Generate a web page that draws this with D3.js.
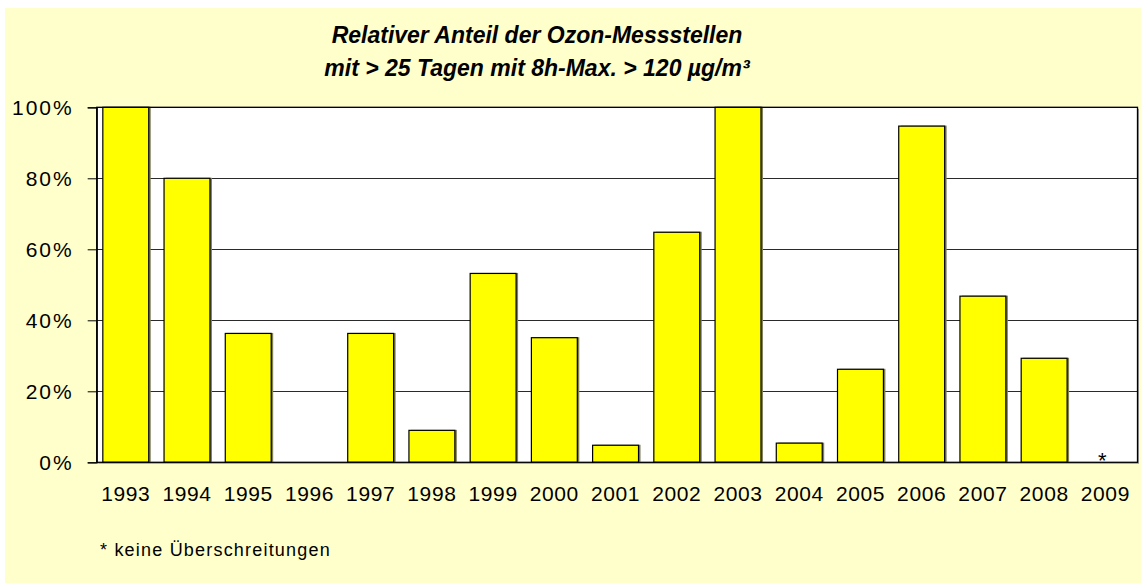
<!DOCTYPE html>
<html>
<head>
<meta charset="utf-8">
<script src="https://cdn.jsdelivr.net/npm/d3@7"></script>
<style>
  html, body { margin: 0; padding: 0; background: #ffffff; }
  svg { display: block; }
  text { font-family: "Liberation Sans", Arial, sans-serif; fill: #000; }
</style>
</head>
<body>
<svg id="chart" width="1141" height="583"></svg>
<script>
// ---- data ----
const years = ["1993","1994","1995","1996","1997","1998","1999","2000","2001","2002","2003","2004","2005","2006","2007","2008","2009"];
const shares = [100, 80, 36.3, 0, 36.3, 9.0, 53.2, 35.1, 4.8, 64.8, 100, 5.4, 26.2, 94.7, 46.8, 29.3, 0];
const noteMarks = ["", "", "", "", "", "", "", "", "", "", "", "", "", "", "", "", "*"];
const yTicks = [0, 20, 40, 60, 80, 100];
const titleLines = ["Relativer Anteil der Ozon-Messstellen", "mit > 25 Tagen mit 8h-Max. > 120 µg/m³"];
const footnote = "* keine Überschreitungen";

// ---- layout ----
const W = 1141, H = 583;
const plot = { left: 96.7, right: 1137.5, top: 107.3, bottom: 462.3 };

const svg = d3.select("#chart");

// background panel
svg.append("rect").attr("x", 5).attr("y", 8).attr("width", W - 5).attr("height", H - 8)
  .attr("fill", "#ffffcc");

// plot area
svg.append("rect")
  .attr("x", plot.left + 1.5).attr("y", plot.top + 1.5)
  .attr("width", plot.right - plot.left).attr("height", plot.bottom - plot.top)
  .attr("fill", "#999");
svg.append("rect")
  .attr("x", plot.left).attr("y", plot.top)
  .attr("width", plot.right - plot.left).attr("height", plot.bottom - plot.top)
  .attr("fill", "#ffffff");

const x = d3.scaleBand().domain(years).range([plot.left, plot.right])
  .paddingInner(0.25).paddingOuter(0.125).align(0.4);
const y = d3.scaleLinear().domain([0, 100]).range([plot.bottom, plot.top]);

// gridlines
svg.append("g").selectAll("line").data(yTicks.filter(d => d > 0)).join("line")
  .attr("x1", plot.left).attr("x2", plot.right)
  .attr("y1", d => Math.round(y(d)) + 0.5).attr("y2", d => Math.round(y(d)) + 0.5)
  .attr("stroke", "#2a2a2a").attr("stroke-width", 1);

// bar shadows
svg.append("g").selectAll("rect").data(years.filter((d, i) => shares[i] > 0)).join("rect")
  .attr("x", d => x(d) + 2)
  .attr("y", d => y(shares[years.indexOf(d)]) - 0.5)
  .attr("width", x.bandwidth())
  .attr("height", d => plot.bottom - y(shares[years.indexOf(d)]))
  .attr("fill", "#7f7f60");

// bars
svg.append("g").selectAll("rect").data(years.filter((d, i) => shares[i] > 0)).join("rect")
  .attr("x", d => x(d))
  .attr("y", d => y(shares[years.indexOf(d)]))
  .attr("width", x.bandwidth())
  .attr("height", d => plot.bottom - y(shares[years.indexOf(d)]))
  .attr("fill", "#ffff00")
  .attr("stroke", "#000").attr("stroke-width", 1.2);

// note marks (asterisk for 2009)
svg.append("g").selectAll("text").data(years.filter((d, i) => noteMarks[i] !== "")).join("text")
  .attr("x", d => x(d) + x.bandwidth() / 2 - 3)
  .attr("y", y(0) + 6)
  .attr("text-anchor", "middle")
  .style("font-size", "22px")
  .text(d => noteMarks[years.indexOf(d)]);

// plot frame
svg.append("rect")
  .attr("x", plot.left).attr("y", plot.top)
  .attr("width", plot.right - plot.left).attr("height", plot.bottom - plot.top)
  .attr("fill", "none").attr("stroke", "#000").attr("stroke-width", 1.3);

// y axis
const yAxis = d3.axisLeft(y).tickValues(yTicks).tickFormat(d => d + "%").tickSize(9).tickPadding(14);
const ya = svg.append("g").attr("transform", `translate(${plot.left},0)`).call(yAxis);
ya.select(".domain").attr("stroke", "#000").attr("stroke-width", 1.3);
ya.selectAll(".tick line").attr("stroke", "#000");
ya.selectAll(".tick text").style("font-size", "21px").style("font-family", "Liberation Sans, Arial, sans-serif")
  .attr("fill", "#000").attr("dy", "0.36em").style("letter-spacing", "2px");

// x axis labels
const xAxis = d3.axisBottom(x).tickSize(0).tickPadding(24);
const xa = svg.append("g").attr("transform", `translate(0,${plot.bottom})`).call(xAxis);
xa.select(".domain").remove();
xa.selectAll(".tick text").style("font-size", "21px").style("font-family", "Liberation Sans, Arial, sans-serif")
  .attr("fill", "#000").style("letter-spacing", "0.6px");

// title
svg.append("g").selectAll("text").data(titleLines).join("text")
  .attr("x", 537).attr("y", (d, i) => 43 + i * 33)
  .attr("text-anchor", "middle")
  .style("font-size", "23px").style("font-weight", "bold").style("font-style", "italic")
  .text(d => d);

// footnote
svg.append("text").attr("x", 100).attr("y", 556)
  .style("font-size", "18px").style("letter-spacing", "1.2px")
  .text(footnote);
</script>
</body>
</html>
